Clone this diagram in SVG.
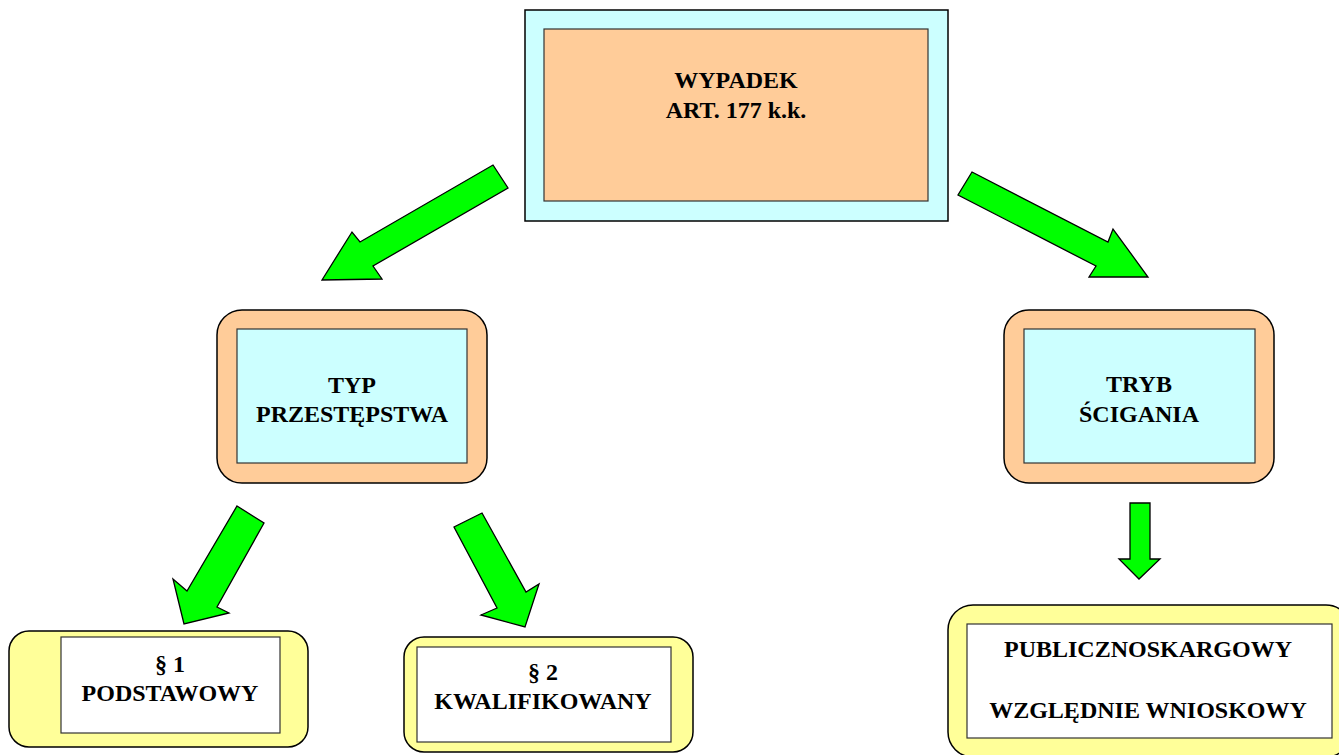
<svg xmlns="http://www.w3.org/2000/svg" width="1339" height="755" viewBox="0 0 1339 755">
<style>
.t{font-family:"Liberation Serif","Times New Roman",serif;font-weight:bold;font-size:24px;fill:#000;text-anchor:middle}
.o{stroke:#000;stroke-width:1.5}
.i{stroke:#333;stroke-width:1.2}
.cy{fill:#CCFFFF}
.pe{fill:#FFCC99}
.ye{fill:#FFFF99}
.wh{fill:#FFFFFF}
.ar{fill:#00FF00;stroke:#000;stroke-width:1.3;stroke-linejoin:miter}
</style>
<rect width="1339" height="755" fill="#fff"/>
<g id="connectors">
<polygon class="ar" points="493,165 508,188 373,266 382,279 322,280 352,232 360,242"/>
<polygon class="ar" points="972,172 1108,242 1113,229 1148,277 1089,277 1096,266 958,195"/>
<polygon class="ar" points="237,506 264,523 217,607 229,613 184,624 173,579 187,591"/>
<polygon class="ar" points="482,513 526,592 539,584 525,627 481,615 497,608 454,527"/>
<polygon class="ar" points="1130,503 1150,503 1150,559 1160,559 1139,579 1119,559 1130,559"/>
</g>
<g id="wypadek">
<rect class="o cy" x="525" y="10" width="423" height="211"/>
<rect class="i pe" x="544" y="29" width="384" height="172"/>
<text class="t" x="736" y="88">WYPADEK</text>
<text class="t" x="736" y="118">ART. 177 k.k.</text>
</g>
<g id="typ">
<rect class="o pe" x="217" y="310" width="270" height="173" rx="25" ry="25"/>
<rect class="i cy" x="237" y="329" width="230" height="134"/>
<text class="t" x="352" y="393">TYP</text>
<text class="t" x="352" y="422">PRZESTĘPSTWA</text>
</g>
<g id="tryb">
<rect class="o pe" x="1004" y="310" width="270" height="173" rx="25" ry="25"/>
<rect class="i cy" x="1024" y="329" width="231" height="134"/>
<text class="t" x="1139" y="392">TRYB</text>
<text class="t" x="1139" y="422">ŚCIGANIA</text>
</g>
<g id="par1">
<rect class="o ye" x="9" y="631" width="299" height="116" rx="20" ry="20"/>
<rect class="i wh" x="61" y="637" width="219" height="96"/>
<text class="t" x="170" y="672">§ 1</text>
<text class="t" x="170" y="701">PODSTAWOWY</text>
</g>
<g id="par2">
<rect class="o ye" x="404" y="637" width="289" height="115" rx="20" ry="20"/>
<rect class="i wh" x="417" y="647" width="254" height="95"/>
<text class="t" x="543" y="680">§ 2</text>
<text class="t" x="543" y="709">KWALIFIKOWANY</text>
</g>
<g id="publiczno">
<rect class="o ye" x="948" y="605" width="403" height="152" rx="25" ry="25"/>
<rect class="i wh" x="967" y="624" width="365" height="114"/>
<text class="t" x="1148" y="657">PUBLICZNOSKARGOWY</text>
<text class="t" x="1148" y="718">WZGLĘDNIE WNIOSKOWY</text>
</g>
</svg>
